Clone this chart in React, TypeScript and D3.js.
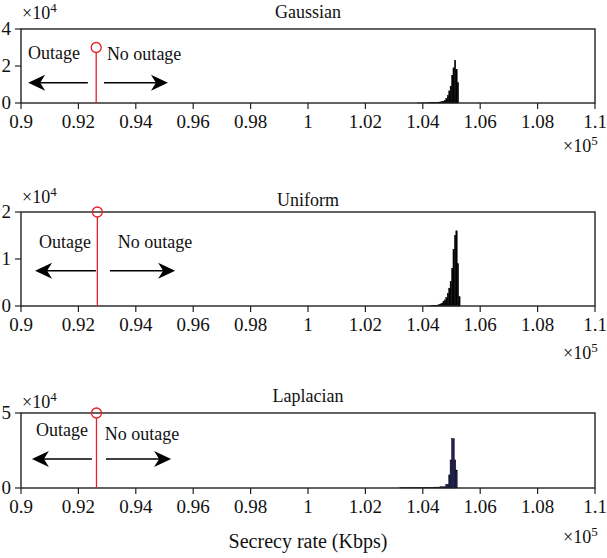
import React, { useEffect, useRef } from "react";
import * as d3 from "d3";

// Secrecy rate histograms (Kbps), bin edges and counts
const fineEdges = [
  103800, 103850, 103900, 103950, 104000, 104050, 104100, 104150, 104200, 104250,
  104300, 104350, 104400, 104450, 104500, 104550, 104600, 104650, 104700, 104750,
  104800, 104850, 104900, 104950, 105000, 105050, 105100, 105150, 105200, 105250, 105300,
];
const gaussianCounts = [
  20, 30, 40, 50, 60, 70, 80, 100, 120, 150,
  180, 220, 270, 330, 400, 500, 620, 780, 1000, 1500,
  2500, 4000, 6500, 9000, 15000, 19000, 23000, 18000, 11000, 0,
];
const uniformCounts = [
  0, 0, 0, 0, 0, 0, 10, 15, 20, 30,
  50, 70, 100, 140, 200, 300, 450, 600, 900, 1300,
  1800, 2700, 3800, 5200, 8000, 12000, 15000, 16000, 9000, 2000,
];
const laplacianEdges = [
  103200, 103400, 103600, 103800, 104000, 104200, 104400, 104600, 104800,
  104900, 104950, 105000, 105100, 105150, 105200,
];
const laplacianCounts = [150, 200, 250, 300, 350, 450, 600, 900, 2500, 8700, 18700, 33000, 18700, 12000];

const titles = ["Gaussian", "Uniform", "Laplacian"];
const yMax = [40000, 20000, 50000];
const yTicks = [[0, 20000, 40000], [0, 10000, 20000], [0, 50000]];
const xTicks = [90000, 92000, 94000, 96000, 98000, 100000, 102000, 104000, 106000, 108000, 110000];
const xTickLabels = ["0.9", "0.92", "0.94", "0.96", "0.98", "1", "1.02", "1.04", "1.06", "1.08", "1.1"];

// outage threshold stem and annotations (data units)
const outageThreshold = [92620, 92660, 92630];
const stemHeight = [30000, 20000, 50000];
const arrowY = [11000, 7500, 19300];
const leftArrow = [[92330, 90250], [92610, 90490], [92470, 90380]];
const rightArrow = [[92890, 95120], [93100, 95370], [92960, 95230]];
const outageText = [[91150, 27000], [91530, 13600], [91430, 38700]];
const noOutageText = [[94290, 26500], [94670, 13600], [94220, 36000]];

const FONT = "'Liberation Serif', 'Times New Roman', serif";

const App = () => {
  const svgRef = useRef(null);

  useEffect(() => {
    const svg = d3.select(svgRef.current);
    svg.selectAll("*").remove();

    const layout = [
      { top: 29, bottom: 103, title: 18, exp: 19, xexp: 152 },
      { top: 212, bottom: 306, title: 206, exp: 203, xexp: 359 },
      { top: 413, bottom: 488, title: 402, exp: 408, xexp: 543 },
    ];
    const left = 21;
    const right = 595;

    const histos = [
      { edges: fineEdges, counts: gaussianCounts, fill: "#000" },
      { edges: fineEdges, counts: uniformCounts, fill: "#000" },
      { edges: laplacianEdges, counts: laplacianCounts, fill: "#1f1f55" },
    ];

    const x = d3.scaleLinear().domain([90000, 110000]).range([left, right]);

    const txt = (sel, size) =>
      sel.style("font-family", FONT).style("font-size", size + "px").attr("fill", "#111");

    layout.forEach((p, i) => {
      const y = d3.scaleLinear().domain([0, yMax[i]]).range([p.bottom, p.top]);
      const g = svg.append("g");

      // histogram bars
      const h = histos[i];
      const bins = h.counts.map((c, k) => ({ x0: h.edges[k], x1: h.edges[k + 1], c }));
      g.selectAll(".bar")
        .data(bins.filter(d => d.c > 0))
        .enter()
        .append("rect")
        .attr("x", d => x(d.x0))
        .attr("width", d => x(d.x1) - x(d.x0))
        .attr("y", d => y(d.c))
        .attr("height", d => y(0) - y(d.c))
        .attr("fill", h.fill)
        .attr("stroke", "#000")
        .attr("stroke-width", 0.4);

      // frame
      g.append("rect")
        .attr("x", left)
        .attr("y", p.top)
        .attr("width", right - left)
        .attr("height", p.bottom - p.top)
        .attr("fill", "none")
        .attr("stroke", "#222")
        .attr("stroke-width", 1.4);

      // x ticks
      xTicks.forEach((t, k) => {
        g.append("line")
          .attr("x1", x(t)).attr("x2", x(t))
          .attr("y1", p.bottom).attr("y2", p.bottom + 6)
          .attr("stroke", "#222").attr("stroke-width", 1.2);
        txt(g.append("text"), 19)
          .attr("x", x(t))
          .attr("y", p.bottom + 25)
          .attr("text-anchor", "middle")
          .text(xTickLabels[k]);
      });

      // y ticks
      yTicks[i].forEach(t => {
        g.append("line")
          .attr("x1", left - 6).attr("x2", left)
          .attr("y1", y(t)).attr("y2", y(t))
          .attr("stroke", "#222").attr("stroke-width", 1.2);
        txt(g.append("text"), 19)
          .attr("x", left - 10)
          .attr("y", y(t) + 6)
          .attr("text-anchor", "end")
          .text(t / 10000);
      });

      // exponents
      const ex = txt(g.append("text"), 18).attr("x", left + 1).attr("y", p.exp);
      ex.append("tspan").text("×10");
      ex.append("tspan").attr("dy", -7).style("font-size", "13px").text("4");

      const ex5 = txt(g.append("text"), 18).attr("x", right - 32).attr("y", p.xexp);
      ex5.append("tspan").text("×10");
      ex5.append("tspan").attr("dy", -7).style("font-size", "13px").text("5");

      // title
      txt(g.append("text"), 18)
        .attr("x", (left + right) / 2)
        .attr("y", p.title)
        .attr("text-anchor", "middle")
        .text(titles[i]);

      // outage stem
      g.append("line")
        .attr("x1", x(outageThreshold[i])).attr("x2", x(outageThreshold[i]))
        .attr("y1", y(0)).attr("y2", y(stemHeight[i]) + 5)
        .attr("stroke", "#e8202a").attr("stroke-width", 1.3);
      g.append("circle")
        .attr("cx", x(outageThreshold[i]))
        .attr("cy", y(stemHeight[i]))
        .attr("r", 5)
        .attr("fill", "none")
        .attr("stroke", "#e8202a")
        .attr("stroke-width", 1.3);

      // arrows
      [leftArrow[i], rightArrow[i]].forEach(([a, b]) => {
        const x1 = x(a);
        const x2 = x(b);
        const yy = y(arrowY[i]);
        const dir = x2 > x1 ? 1 : -1;
        g.append("line")
          .attr("x1", x1).attr("x2", x2 - dir * 10)
          .attr("y1", yy).attr("y2", yy)
          .attr("stroke", "#000").attr("stroke-width", 1.5);
        const path = d3.path();
        path.moveTo(x2, yy);
        path.lineTo(x2 - dir * 17, yy - 8);
        path.lineTo(x2 - dir * 12, yy);
        path.lineTo(x2 - dir * 17, yy + 8);
        path.closePath();
        g.append("path").attr("d", path.toString()).attr("fill", "#000");
      });

      txt(g.append("text"), 18)
        .attr("x", x(outageText[i][0]))
        .attr("y", y(outageText[i][1]) + 6)
        .attr("text-anchor", "middle")
        .text("Outage");
      txt(g.append("text"), 18)
        .attr("x", x(noOutageText[i][0]))
        .attr("y", y(noOutageText[i][1]) + 6)
        .attr("text-anchor", "middle")
        .text("No outage");
    });

    // x label
    txt(svg.append("text"), 20)
      .attr("x", (left + right) / 2)
      .attr("y", 548)
      .attr("text-anchor", "middle")
      .text("Secrecy rate (Kbps)");
  }, []);

  return (
    <svg
      ref={svgRef}
      width={607}
      height={558}
      style={{ position: "absolute", left: 0, top: 0, background: "#fff" }}
    />
  );
};

export default App;
